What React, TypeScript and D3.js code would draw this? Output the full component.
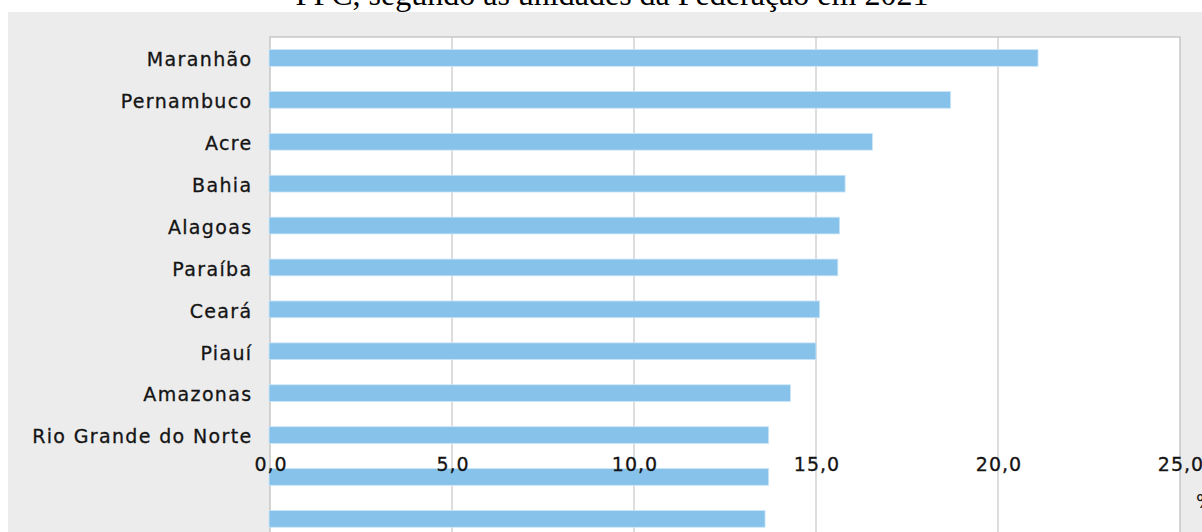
import React from "react";
import * as d3 from "d3";

// Percentages by federative unit, 2021 (sorted descending)
const categories: string[] = [
  "Maranhão",
  "Pernambuco",
  "Acre",
  "Bahia",
  "Alagoas",
  "Paraíba",
  "Ceará",
  "Piauí",
  "Amazonas",
  "Rio Grande do Norte",
  "",
  "",
];
const values: number[] = [21.1, 18.7, 16.55, 15.8, 15.65, 15.6, 15.1, 15.0, 14.3, 13.7, 13.7, 13.6];
const xTicks: number[] = [0, 5, 10, 15, 20, 25];
const titleText = "PPC, segundo as unidades da Federação em 2021";
const unitText = "%";

const W = 1202;
const H = 532;
const plot = { left: 270, right: 1180, top: 37 };
const step = 41.9;
const labelFont = "'DejaVu Sans', Verdana, sans-serif";
const ink = "#141414";

const fmt = (v: number) => v.toFixed(1).replace(".", ",");

export default function App() {
  const x = d3.scaleLinear().domain([0, 25]).range([plot.left, plot.right]);
  const idx = categories.map((_, i) => i);
  const y = d3
    .scaleBand<number>()
    .domain(idx)
    .range([plot.top, plot.top + step * categories.length])
    .paddingInner(0.6)
    .paddingOuter(0.3);

  return (
    <svg
      width={W}
      height={H}
      style={{ position: "absolute", left: 0, top: 0, display: "block" }}
    >
      <rect x={0} y={0} width={W} height={H} fill="#ffffff" />
      {/* title line */}
      <text
        x={612}
        y={5}
        textAnchor="middle"
        fontFamily="'Liberation Serif', 'Times New Roman', serif"
        fontSize={32}
        fill="#000"
      >
        {titleText}
      </text>
      {/* chart background */}
      <rect x={8} y={12} width={W - 8} height={H} fill="#ececec" />
      {/* plot area */}
      <rect
        x={plot.left}
        y={plot.top}
        width={plot.right - plot.left}
        height={H}
        fill="#ffffff"
        stroke="#c6c6c6"
        strokeWidth={1.5}
      />
      {xTicks.slice(1, -1).map((t) => (
        <line
          key={`g${t}`}
          x1={x(t)}
          x2={x(t)}
          y1={plot.top}
          y2={H}
          stroke="#c6c6c6"
          strokeWidth={1.2}
        />
      ))}
      {/* bars */}
      {values.map((v, i) => (
        <rect
          key={`b${i}`}
          x={x(0) - 1}
          y={y(i)!}
          width={x(v) - x(0) + 1}
          height={y.bandwidth()}
          fill="#86c2ea"
          stroke="#cde6f7"
          strokeWidth={0.8}
        />
      ))}
      {/* category labels */}
      {categories.map((c, i) =>
        c ? (
          <text
            key={`l${i}`}
            x={252.5}
            y={y(i)! + y.bandwidth() / 2 + 8.3}
            textAnchor="end"
            fontFamily={labelFont}
            fontSize={19}
            letterSpacing={1.35}
            fill={ink}
            stroke={ink}
            strokeWidth={0.3}
          >
            {c}
          </text>
        ) : null
      )}
      {/* x tick labels */}
      {xTicks.map((t) => (
        <text
          key={`t${t}`}
          x={x(t) + 1}
          y={471}
          textAnchor="middle"
          fontFamily={labelFont}
          fontSize={19}
          letterSpacing={1}
          fill={ink}
          stroke={ink}
          strokeWidth={0.3}
        >
          {fmt(t)}
        </text>
      ))}
      <text
        x={1196}
        y={508}
        fontFamily={labelFont}
        fontSize={19}
        fill={ink}
      >
        {unitText}
      </text>
    </svg>
  );
}
